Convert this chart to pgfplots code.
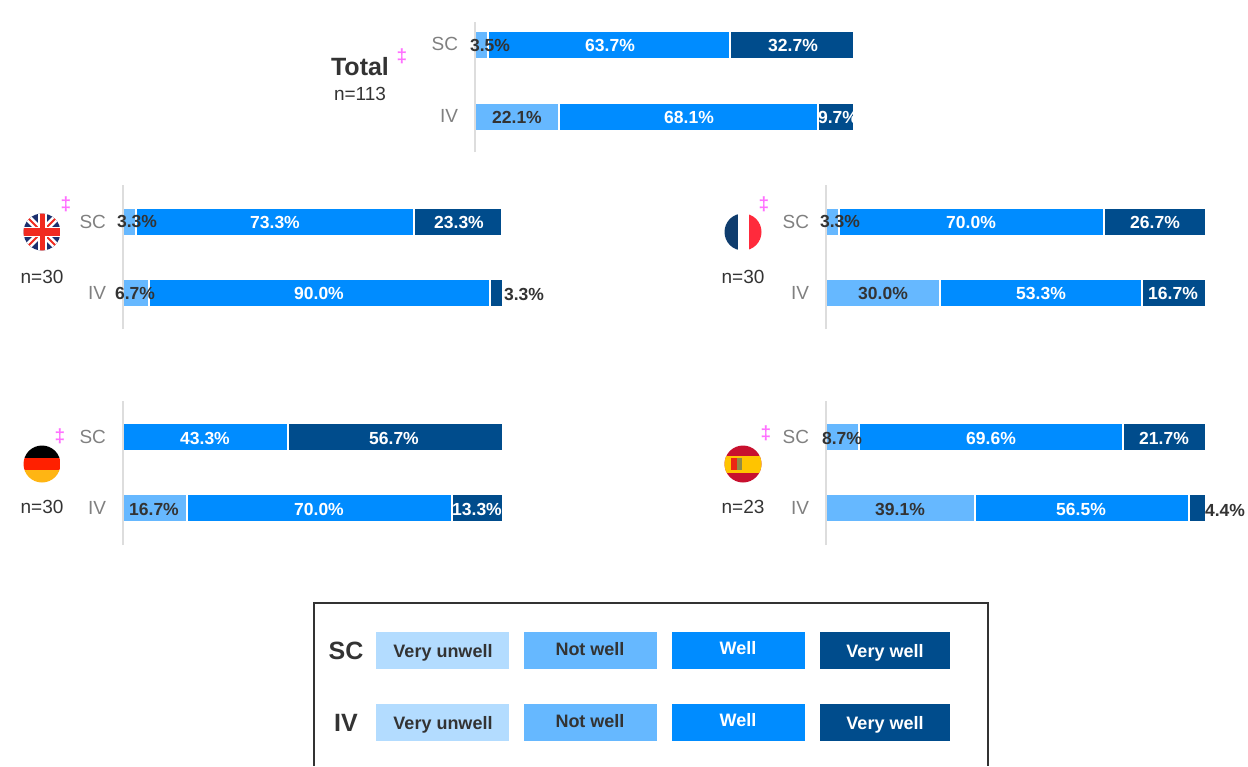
\documentclass[border=0pt]{standalone}
\usepackage{fontspec}
\setmainfont{Liberation Sans}
\usepackage{pgfplots}
\usepackage{pgfplotstable}
\pgfplotsset{compat=1.18}

\definecolor{vuC}{HTML}{B3DCFF}
\definecolor{nwC}{HTML}{66B8FF}
\definecolor{wC}{HTML}{008CFF}
\definecolor{vwC}{HTML}{004C8C}
\definecolor{darkT}{HTML}{333333}
\definecolor{grayT}{HTML}{808080}
\definecolor{ddag}{HTML}{FF70FF}
\definecolor{lineC}{HTML}{DDDDDD}

\newcommand{\fs}[1]{\fontsize{#1}{#1}\selectfont}

\pgfplotstableread{
y vu nw w vw
1 0 3.5 63.7 32.7
0 0 22.1 68.1 9.7
}\totaltab
\pgfplotstableread{
y vu nw w vw
1 0 3.3 73.3 23.3
0 0 6.7 90.0 3.3
}\uktab
\pgfplotstableread{
y vu nw w vw
1 0 3.3 70.0 26.7
0 0 30.0 53.3 16.7
}\frtab
\pgfplotstableread{
y vu nw w vw
1 0 0 43.3 56.7
0 0 16.7 70.0 13.3
}\detab
\pgfplotstableread{
y vu nw w vw
1 0 8.7 69.6 21.7
0 0 39.1 56.5 4.4
}\estab

\pgfplotsset{
  panel/.style={
    xbar stacked, bar width=28pt, scale only axis, width=379.8pt,
    xmin=-0.05, xmax=100, clip=false,
    anchor=south west, axis on top,
    axis x line=none, axis y line=left,
    y axis line style={draw=lineC, line width=2pt, -},
    ytick={0,1}, yticklabels={IV,SC},
    major tick length=0pt,
    yticklabel style={font=\fs{19}, text=grayT, xshift=-13.5pt, yshift=0.5pt},
  },
}
\tikzset{
  dk/.style={font=\bfseries\fs{17.5}, text=darkT, inner sep=0pt},
  wh/.style={font=\bfseries\fs{17.5}, text=white, inner sep=0pt},
  nn/.style={font=\fs{19}, text=darkT, inner sep=0pt},
  dg/.style={font=\bfseries\fs{19}, text=ddag, inner sep=0pt},
}
\newcommand{\bars}[1]{%
  \addplot[fill=vuC, draw=none] table[x=vu, y=y] {#1};
  \addplot[fill=nwC, draw=white, line width=2pt] table[x=nw, y=y] {#1};
  \addplot[fill=wC, draw=white, line width=2pt] table[x=w, y=y] {#1};
  \addplot[fill=vwC, draw=white, line width=2pt] table[x=vw, y=y] {#1};
}
\newcommand{\lab}[4]{\node[#1] at (#2,#3) {#4\%};}
\newcommand{\legendrow}[2]{%
  \node[font=\bfseries\fs{25}, text=darkT, inner sep=0pt] at (346,#2) {#1};
  \fill[vuC] (376,#2-19) rectangle (509,#2+18);
  \fill[nwC] (524,#2-19) rectangle (657,#2+18);
  \fill[wC]  (672,#2-19) rectangle (805,#2+18);
  \fill[vwC] (820,#2-19) rectangle (950,#2+18);
  \node[font=\bfseries\fs{18}, text=darkT, inner sep=0pt] at (443,#2+2) {Very unwell};
  \node[font=\bfseries\fs{18}, text=darkT, inner sep=0pt] at (590,#2-2) {Not well};
  \node[font=\bfseries\fs{18}, text=white, inner sep=0pt] at (738,#2-3) {Well};
  \node[font=\bfseries\fs{18}, text=white, inner sep=0pt] at (885,#2+2) {Very well};
}

\begin{document}
\begin{tikzpicture}
\useasboundingbox (0pt,0pt) rectangle (1248pt,-766pt);

\begin{axis}[panel, at={(475pt,-152pt)}, height=130pt, ymin=-0.493, ymax=1.3125]
\bars{\totaltab}
\end{axis}
\begin{axis}[panel, at={(123pt,-329pt)}, height=144pt, ymin=-0.507, ymax=1.521]
\bars{\uktab}
\end{axis}
\begin{axis}[panel, at={(826pt,-329pt)}, height=144pt, ymin=-0.507, ymax=1.521]
\bars{\frtab}
\end{axis}
\begin{axis}[panel, at={(123pt,-545pt)}, height=144pt, ymin=-0.521, ymax=1.507]
\bars{\detab}
\end{axis}
\begin{axis}[panel, at={(826pt,-545pt)}, height=144pt, ymin=-0.521, ymax=1.507]
\bars{\estab}
\end{axis}

\begin{scope}[x=1pt, y=-1pt]
% value labels, on top of all bars
\lab{dk}{490}{45}{3.5}
\lab{wh}{610}{45}{63.7}
\lab{wh}{793}{45}{32.7}
\lab{dk}{517}{117}{22.1}
\lab{wh}{689}{117}{68.1}
\lab{wh}{838}{117}{9.7}

\lab{dk}{137}{221.5}{3.3}
\lab{wh}{275}{222}{73.3}
\lab{wh}{459}{222}{23.3}
\lab{dk}{135}{293}{6.7}
\lab{wh}{319}{293}{90.0}
\lab{dk}{524}{294.5}{3.3}

\lab{dk}{840}{221.5}{3.3}
\lab{wh}{971}{222}{70.0}
\lab{wh}{1155}{222}{26.7}
\lab{dk}{883}{293}{30.0}
\lab{wh}{1041}{293}{53.3}
\lab{wh}{1173}{293}{16.7}

\lab{wh}{205}{438}{43.3}
\lab{wh}{394}{438}{56.7}
\lab{dk}{154}{509}{16.7}
\lab{wh}{319}{509}{70.0}
\lab{wh}{477}{509}{13.3}

\lab{dk}{842}{438}{8.7}
\lab{wh}{991}{438}{69.6}
\lab{wh}{1164}{438}{21.7}
\lab{dk}{900}{509}{39.1}
\lab{wh}{1081}{509}{56.5}
\lab{dk}{1225}{510}{4.4}

% panel captions
\node[font=\bfseries\fs{25}, text=darkT, inner sep=0pt] at (360,67) {Total};
\node[nn] at (360,94) {n=113};
\node[dg] at (402,56) {‡};
\node[nn] at (42,276.5) {n=30};
\node[dg] at (66,204) {‡};
\node[nn] at (743,276.5) {n=30};
\node[dg] at (764,204) {‡};
\node[nn] at (42,506.5) {n=30};
\node[dg] at (60,436) {‡};
\node[nn] at (743,506.5) {n=23};
\node[dg] at (766,433) {‡};

% UK flag
\definecolor{ukB}{HTML}{1B2F6E}
\definecolor{ukR}{HTML}{F02A20}
\begin{scope}
\clip (42,232) circle (18.5);
\fill[ukB] (23,213) rectangle (61,251);
\draw[white, line width=7pt] (23,213) -- (61,251) (23,251) -- (61,213);
\draw[ukR, line width=2pt] (23,213) -- (61,251) (23,251) -- (61,213);
\fill[white] (37.5,213) rectangle (46.5,251);
\fill[white] (23,227) rectangle (61,236.7);
\fill[ukR] (39.5,213) rectangle (44.5,251);
\fill[ukR] (23,228) rectangle (61,235.7);
\end{scope}

% French flag
\definecolor{frB}{HTML}{0F3D6E}
\definecolor{frR}{HTML}{FF2A3C}
\begin{scope}
\clip (743,232) circle (18.5);
\fill[white] (724,213) rectangle (762,251);
\fill[frB] (724,213) rectangle (737.5,251);
\fill[frR] (749,213) rectangle (762,251);
\end{scope}

% German flag
\definecolor{deR}{HTML}{FF2000}
\definecolor{deY}{HTML}{FFB513}
\begin{scope}
\clip (42,464) circle (18.5);
\fill[black] (23,445) rectangle (61,458);
\fill[deR] (23,458) rectangle (61,470);
\fill[deY] (23,470) rectangle (61,483);
\end{scope}

% Spanish flag
\definecolor{esR}{HTML}{C8102E}
\definecolor{esY}{HTML}{FFC400}
\begin{scope}
\clip (743,464) circle (18.5);
\fill[esR] (724,445) rectangle (762,483);
\fill[esY] (724,456) rectangle (762,473);
\fill[red!70!brown] (731,458) rectangle (737,470);
\fill[black!50!yellow] (737,458) rectangle (742,470);
\end{scope}

% legend, runs off the bottom edge
\draw[darkT, line width=2pt] (314,766) -- (314,603) -- (988,603) -- (988,766);
\legendrow{SC}{651}
\legendrow{IV}{723}
\end{scope}
\end{tikzpicture}
\end{document}
